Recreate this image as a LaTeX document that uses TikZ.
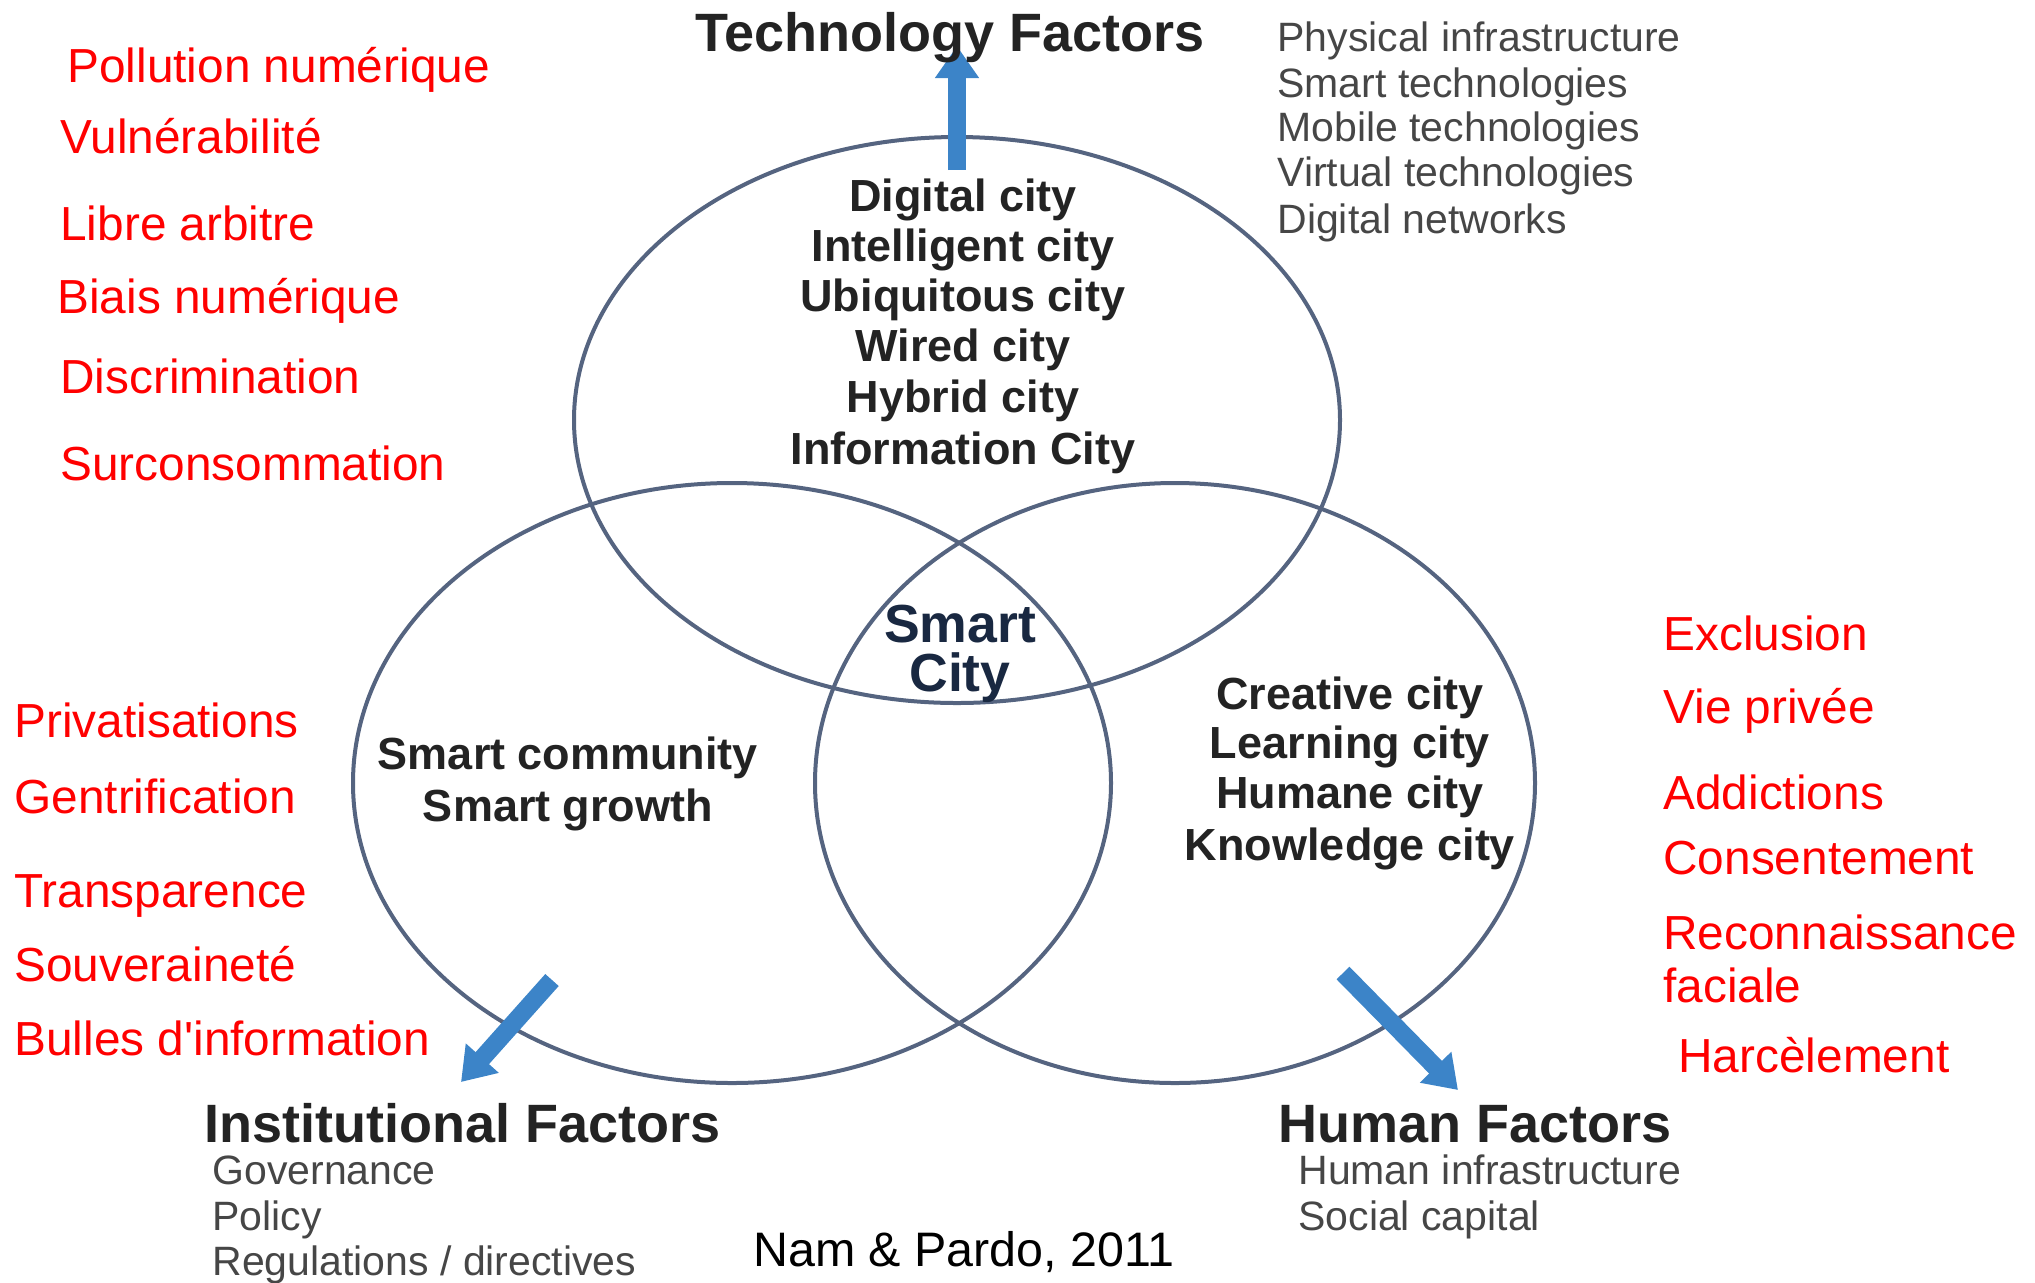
\documentclass[tikz,border=0pt]{standalone}
\usepackage{fontspec}
\setmainfont{Liberation Sans}
\usetikzlibrary{arrows.meta}
\definecolor{redtxt}{RGB}{255,0,0}
\definecolor{ringcol}{RGB}{85,100,128}
\definecolor{arrowblue}{RGB}{60,132,200}
\definecolor{darktxt}{RGB}{35,35,35}
\definecolor{listtxt}{RGB}{70,70,70}
\definecolor{navytxt}{RGB}{25,40,65}
\tikzset{
  risk/.style={anchor=base west, text=redtxt, font=\fontsize{23.9}{28}\selectfont, inner sep=0pt},
  citylbl/.style={anchor=base, text=darktxt, font=\bfseries\fontsize{22.5}{26}\selectfont, inner sep=0pt},
  factor/.style={anchor=base west, text=darktxt, font=\bfseries\fontsize{27}{32}\selectfont, inner sep=0pt},
  itemlbl/.style={anchor=base west, text=listtxt, font=\fontsize{20.5}{24}\selectfont, inner sep=0pt},
  ring/.style={draw=ringcol, line width=2pt},
  fatarrow/.style={draw=arrowblue, line width=9pt, -{Triangle[length=16pt, width=21pt]}}
}
\begin{document}
\begin{tikzpicture}[x=0.5pt, y=-0.5pt]
\useasboundingbox (0,0) rectangle (2035,1282);
% rings
\draw[ring] (957,420) ellipse [x radius=191.5pt, y radius=141.5pt];
\draw[ring] (732,783) ellipse [x radius=189.5pt, y radius=150pt];
\draw[ring] (1175,783) ellipse [x radius=180pt, y radius=150pt];
% arrows
\coordinate (topS) at (957,170);
\coordinate (topE) at (957,46);
\coordinate (leftS) at (552,980);
\coordinate (leftE) at (461,1082);
\coordinate (rightS) at (1343,973);
\coordinate (rightE) at (1458,1090);
\draw[fatarrow] (topS) -- (topE);
\draw[fatarrow] (leftS) -- (leftE);
\draw[fatarrow] (rightS) -- (rightE);
% factor titles
\node[factor, anchor=base] (tech) at (950,51) {Technology Factors};
\node[factor] (inst) at (204,1142) {Institutional Factors};
\node[factor] (human) at (1278,1142) {Human Factors};
% lists
\node[itemlbl] (t1) at (1277,51) {Physical infrastructure};
\node[itemlbl] (t2) at (1277,97) {Smart technologies};
\node[itemlbl] (t3) at (1277,141) {Mobile technologies};
\node[itemlbl] (t4) at (1277,186) {Virtual technologies};
\node[itemlbl] (t5) at (1277,233) {Digital networks};
\node[itemlbl] (i1) at (212,1184) {Governance};
\node[itemlbl] (i2) at (212,1230) {Policy};
\node[itemlbl] (i3) at (212,1275) {Regulations / directives};
\node[itemlbl] (h1) at (1298,1184) {Human infrastructure};
\node[itemlbl] (h2) at (1298,1230) {Social capital};
% city labels
\node[citylbl] (c1) at (963,211) {Digital city};
\node[citylbl] (c2) at (963,261) {Intelligent city};
\node[citylbl] (c3) at (963,311) {Ubiquitous city};
\node[citylbl] (c4) at (963,361) {Wired city};
\node[citylbl] (c5) at (963,412) {Hybrid city};
\node[citylbl] (c6) at (963,464) {Information City};
\node[citylbl] (s1) at (568,769) {Smart community};
\node[citylbl] (s2) at (568,821) {Smart growth};
\node[citylbl] (r1) at (1350,709) {Creative city};
\node[citylbl] (r2) at (1350,758) {Learning city};
\node[citylbl] (r3) at (1350,808) {Humane city};
\node[citylbl] (r4) at (1350,860) {Knowledge city};
\node[citylbl, text=navytxt, font=\bfseries\fontsize{26.8}{30}\selectfont] (sm1) at (960,642) {Smart};
\node[citylbl, text=navytxt, font=\bfseries\fontsize{26.8}{30}\selectfont] (sm2) at (960,691) {City};
% red risks
\node[risk] (p1) at (67,82) {Pollution numérique};
\node[risk] (p2) at (60,153) {Vulnérabilité};
\node[risk] (p3) at (60,240) {Libre arbitre};
\node[risk] (p4) at (57,313) {Biais numérique};
\node[risk] (p5) at (60,393) {Discrimination};
\node[risk] (p6) at (60,480) {Surconsommation};
\node[risk] (q1) at (14,737) {Privatisations};
\node[risk] (q2) at (14,813) {Gentrification};
\node[risk] (q3) at (14,907) {Transparence};
\node[risk] (q4) at (14,981) {Souveraineté};
\node[risk] (q5) at (14,1055) {Bulles d\textquotesingle information};
\node[risk] (e1) at (1663,650) {Exclusion};
\node[risk] (e2) at (1663,723) {Vie privée};
\node[risk] (e3) at (1663,809) {Addictions};
\node[risk] (e4) at (1663,874) {Consentement};
\node[risk] (e5) at (1663,949) {Reconnaissance};
\node[risk] (e6) at (1663,1002) {faciale};
\node[risk] (e7) at (1678,1072) {Harcèlement};
% source
\node[anchor=base, inner sep=0pt, font=\fontsize{24.2}{28}\selectfont] (src) at (964,1266) {Nam \& Pardo, 2011};
\end{tikzpicture}
\end{document}
